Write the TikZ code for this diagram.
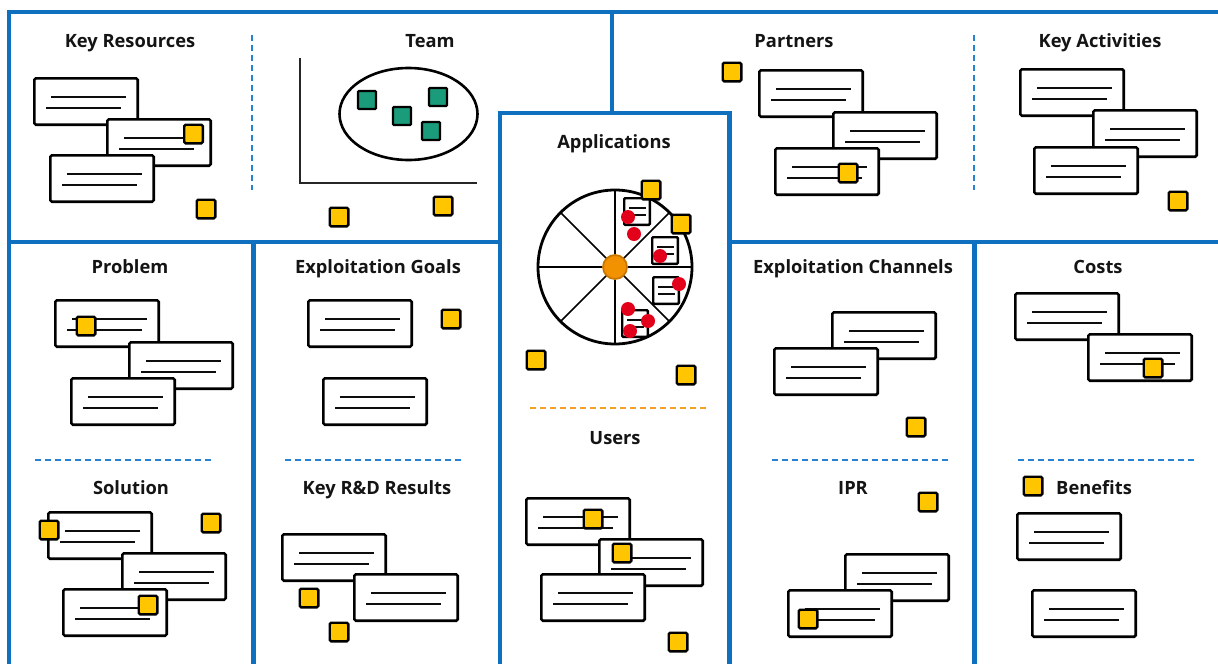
\documentclass[tikz,border=0pt]{standalone}
\usepackage{fontspec}
\setmainfont{Open Sans}
\usetikzlibrary{calc}
\definecolor{frameblue}{RGB}{16,112,192}
\definecolor{dashblue}{RGB}{40,130,210}
\definecolor{dashorange}{RGB}{245,160,40}
\definecolor{stickyyellow}{RGB}{255,198,0}
\definecolor{teamteal}{RGB}{26,155,122}
\definecolor{redpin}{RGB}{226,0,26}
\definecolor{hubfill}{RGB}{243,146,0}
\definecolor{hubdraw}{RGB}{200,120,0}
\tikzset{
  frame/.style={draw=frameblue, line width=4.2pt},
  sepblue/.style={draw=dashblue, line width=1.6pt, dash pattern=on 6pt off 4pt},
  seporange/.style={draw=dashorange, line width=1.6pt, dash pattern=on 6pt off 4pt},
  title/.style={font=\fontsize{18.3}{21}\selectfont\bfseries, text=black!92, inner sep=0pt, anchor=base},
  card/.style={draw=black, line width=2.6pt, fill=white, rounded corners=1.5pt,
    minimum width=103.4pt, minimum height=46.4pt, anchor=north west, inner sep=0pt, outer sep=0pt},
  cardline/.style={draw=black!95, line width=1.7pt},
  minicard/.style={draw=black, line width=2.4pt, fill=white, rounded corners=1pt,
    minimum width=25.6pt, minimum height=26.6pt, anchor=north west, inner sep=0pt, outer sep=0pt},
  sticky/.style={draw=black, line width=2.4pt, fill=stickyyellow, rounded corners=1.5pt,
    minimum size=18.6pt, inner sep=0pt},
  member/.style={draw=black, line width=2.4pt, fill=teamteal, rounded corners=1pt,
    minimum size=18pt, inner sep=0pt},
  pin/.style={circle, fill=redpin, minimum size=14pt, inner sep=0pt},
  axis/.style={draw=black!85, line width=1.8pt},
}
\newcommand\mycard[3]{%
  \node[card] (#1) at (#2+1.3,#3+1.3) {};
  \draw[cardline] ($(#1.north west)+(17,19)$) -- +(75,0);
  \draw[cardline] ($(#1.north west)+(12,30)$) -- +(75,0);
}
\newcommand\myminicard[3]{%
  \node[minicard] (#1) at (#2+1.2,#3+1.2) {};
  \draw[cardline] ($(#1.north west)+(5,10)$) -- +(17,0);
  \draw[cardline] ($(#1.north west)+(5,17)$) -- +(17,0);
}
\begin{document}
\begin{tikzpicture}[x=1pt,y=-1pt]
\useasboundingbox[fill=white] (0,0) rectangle (1218,664);

% ---------- blue frames ----------
\draw[frame] (9,12) -- (1218,12);
\draw[frame] (9,10) -- (9,664);
\draw[frame] (9,242) -- (500,242);
\draw[frame] (730,242) -- (1218,242);
\draw[frame] (612,12) -- (612,113);
\draw[frame] (500,664) -- (500,113) -- (729.5,113) -- (729.5,664);
\draw[frame] (253.5,242) -- (253.5,664);
\draw[frame] (974.5,242) -- (974.5,664);

% ---------- dashed separators ----------
\draw[sepblue] (252,35) -- (252,190);
\draw[sepblue] (974,35) -- (974,190);
\draw[sepblue] (35,460) -- (213,460);
\draw[sepblue] (285,460) -- (464,460);
\draw[sepblue] (772,460) -- (951,460);
\draw[sepblue] (1018,460) -- (1197,460);
\draw[seporange] (530,408) -- (709,408);

% ---------- titles ----------
\node[title] (tKR) at (130,47) {Key Resources};
\node[title] (tTeam) at (430,47) {Team};
\node[title] (tPart) at (794,47) {Partners};
\node[title] (tKA) at (1100,47) {Key Activities};
\node[title] (tApp) at (614,148) {Applications};
\node[title] (tProb) at (130,273) {Problem};
\node[title] (tSol) at (131,494) {Solution};
\node[title] (tEG) at (378,273) {Exploitation Goals};
\node[title] (tRD) at (377,494) {Key R\&D Results};
\node[title] (tUsers) at (615,444) {Users};
\node[title] (tEC) at (853,273) {Exploitation Channels};
\node[title] (tIPR) at (853,494) {IPR};
\node[title] (tCosts) at (1098,273) {Costs};
\node[title, anchor=base west] (tBen) at (1056,494) {Benefits};

% ---------- Key Resources ----------
\mycard{kr1}{33}{77}
\mycard{kr2}{106}{118}
\mycard{kr3}{49}{154}
\node[sticky] (krs1) at (193.5,134) {};
\node[sticky] (krs2) at (206,209) {};

% ---------- Team ----------
\draw[axis] (300,58) -- (300,183) -- (477,183);
\draw[line width=2.6pt] (408.5,114) ellipse[x radius=69, y radius=46];
\node[member] (m1) at (367,100) {};
\node[member] (m2) at (402,116) {};
\node[member] (m3) at (438,97) {};
\node[member] (m4) at (431,131) {};
\node[sticky] (ts1) at (339,217) {};
\node[sticky] (ts2) at (443,206) {};

% ---------- Partners ----------
\node[sticky] (ps1) at (732,72) {};
\mycard{p1}{758}{69}
\mycard{p2}{832}{111}
\mycard{p3}{774}{147}
\node[sticky] (ps2) at (848,173) {};

% ---------- Key Activities ----------
\mycard{ka1}{1019}{68}
\mycard{ka2}{1092}{109}
\mycard{ka3}{1033}{146}
\node[sticky] (kas1) at (1178,201) {};

% ---------- Applications ----------
\coordinate (appc) at (615,267);
\foreach \a in {0,45,...,315} \draw[line width=1.5pt] (appc) -- ($(appc)+(\a:77)$);
\draw[line width=2.8pt] (appc) circle[radius=77];
\node[circle, fill=hubfill, draw=hubdraw, line width=1.8pt, minimum size=24pt, inner sep=0pt] (hub) at (appc) {};
\myminicard{mc1}{623}{197}
\myminicard{mc2}{651}{236}
\myminicard{mc3}{652}{276}
\myminicard{mc4}{621}{309}
\node[sticky] (as1) at (651,190) {};
\node[sticky] (as2) at (681,224) {};
\node[pin] (r1) at (628,217) {};
\node[pin] (r2) at (634,234) {};
\node[pin] (r3) at (660,256) {};
\node[pin] (r4) at (679,284) {};
\node[pin] (r5) at (628,309) {};
\node[pin] (r6) at (648,321) {};
\node[pin] (r7) at (630,331) {};
\node[sticky] (as3) at (536,360) {};
\node[sticky] (as4) at (686,375) {};

% ---------- Users ----------
\mycard{u1}{525}{497}
\mycard{u2}{598}{538}
\mycard{u3}{540}{573}
\node[sticky] (us1) at (593,519) {};
\node[sticky] (us2) at (622,553) {};
\node[sticky] (us3) at (678,642) {};

% ---------- Problem ----------
\mycard{pr1}{54}{299}
\node[sticky] (prs1) at (86,326) {};
\mycard{pr2}{128}{341}
\mycard{pr3}{70}{377}

% ---------- Solution ----------
\mycard{so1}{47}{511}
\node[sticky] (sos1) at (49,530) {};
\mycard{so2}{121}{552}
\mycard{so3}{62}{588}
\node[sticky] (sos2) at (148,605) {};
\node[sticky] (sos3) at (211,523) {};

% ---------- Exploitation Goals ----------
\mycard{eg1}{307}{299}
\mycard{eg2}{322}{377}
\node[sticky] (egs1) at (451,319) {};

% ---------- Key R&D Results ----------
\mycard{rd1}{281}{533}
\mycard{rd2}{353}{573}
\node[sticky] (rds1) at (309,598) {};
\node[sticky] (rds2) at (339,632) {};

% ---------- Exploitation Channels ----------
\mycard{ec1}{831}{311}
\mycard{ec2}{773}{347}
\node[sticky] (ecs1) at (916,427) {};

% ---------- IPR ----------
\node[sticky] (ips1) at (928,502) {};
\mycard{ip1}{844}{553}
\mycard{ip2}{787}{589}
\node[sticky] (ips2) at (808,619) {};

% ---------- Costs ----------
\mycard{co1}{1014}{292}
\mycard{co2}{1087}{333}
\node[sticky] (cos1) at (1153,368) {};

% ---------- Benefits ----------
\node[sticky] (bs1) at (1033,486) {};
\mycard{be1}{1016}{512}
\mycard{be2}{1031}{589}
\end{tikzpicture}
\end{document}
